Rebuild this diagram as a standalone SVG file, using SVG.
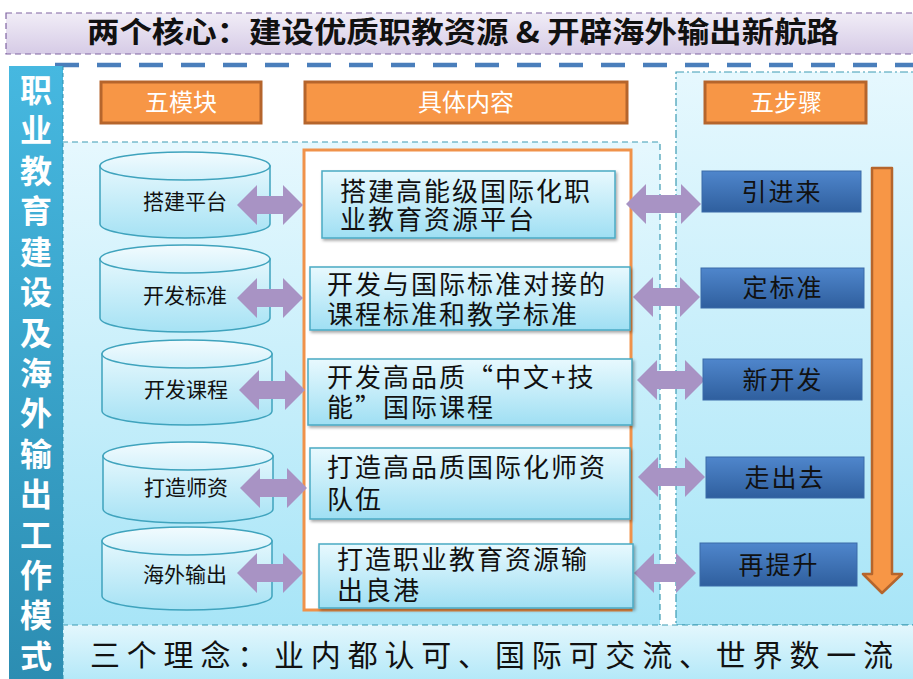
<svg xmlns="http://www.w3.org/2000/svg" width="913" height="679" viewBox="0 0 913 679">
<defs>
<linearGradient id="gTitle" x1="0" y1="0" x2="0" y2="1"><stop offset="0" stop-color="#f1edf7"/><stop offset="1" stop-color="#d6cbe6"/></linearGradient>
<linearGradient id="gBar" x1="0" y1="0" x2="0" y2="1"><stop offset="0" stop-color="#46b8e0"/><stop offset="1" stop-color="#2c8db2"/></linearGradient>
<linearGradient id="gRegion" x1="0" y1="0" x2="0" y2="1"><stop offset="0" stop-color="#e6f8fe"/><stop offset="1" stop-color="#a8e5f7"/></linearGradient>
<linearGradient id="gBand" x1="0" y1="0" x2="0" y2="1"><stop offset="0" stop-color="#e3f7fd"/><stop offset="1" stop-color="#b3e8f8"/></linearGradient>
<linearGradient id="gCyl" x1="0" y1="0" x2="0" y2="1"><stop offset="0" stop-color="#e4f7fd"/><stop offset="1" stop-color="#a6e2f4"/></linearGradient>
<linearGradient id="gCylTop" x1="0" y1="0" x2="0" y2="1"><stop offset="0" stop-color="#f2fbfe"/><stop offset="1" stop-color="#d3f1fb"/></linearGradient>
<linearGradient id="gBox" x1="0" y1="0" x2="0" y2="1"><stop offset="0" stop-color="#e8f9fe"/><stop offset="1" stop-color="#9fdff3"/></linearGradient>
<linearGradient id="gStep" x1="0" y1="0" x2="0" y2="1"><stop offset="0" stop-color="#4f86cc"/><stop offset="1" stop-color="#2f5f9e"/></linearGradient>
<filter id="shadow" x="-10%" y="-10%" width="130%" height="140%"><feDropShadow dx="1.5" dy="2" stdDeviation="1.5" flood-color="#000" flood-opacity="0.35"/></filter>
</defs>
<style>
.cyl{fill:url(#gCyl);stroke:#3fa3bd;stroke-width:1.5}
.cyltop{fill:url(#gCylTop);stroke:#3fa3bd;stroke-width:1.5}
.arr{fill:#a893c4}
.box{fill:url(#gBox);stroke:#4aaac4;stroke-width:1.5;filter:url(#shadow)}
.step{fill:url(#gStep);stroke:#3a6aa8;stroke-width:1}
.hdr{fill:#f79646;stroke:#b5652c;stroke-width:3}
.cjk{font-family:"Noto Sans CJK SC","Liberation Serif",serif}
.lbl{font-size:21px;fill:#111}
.txt{font-size:26px;fill:#111;letter-spacing:2px}
.stxt{font-size:25px;fill:#111;letter-spacing:2px}
.htxt{font-size:24px;fill:#fff}
</style>
<rect width="913" height="679" fill="#ffffff"/>
<g id="title">
<rect x="6" y="13" width="912" height="41" fill="url(#gTitle)" stroke="#8064a2" stroke-width="1.2" stroke-dasharray="6,4"/>
<text x="463" y="43" text-anchor="middle" class="cjk" font-size="29" font-weight="bold" fill="#111" textLength="752" lengthAdjust="spacingAndGlyphs">两个核心：建设优质职教资源 &amp; 开辟海外输出新航路</text>
</g>
<line x1="55" y1="65" x2="913" y2="65" stroke="#4a7ebb" stroke-width="4.5" stroke-dasharray="24,18"/>
<rect x="62" y="142" width="598" height="483" fill="url(#gRegion)"/>
<path d="M62,142 H660 V625" fill="none" stroke="#3d9bb3" stroke-width="1.2" stroke-dasharray="6,4"/>
<rect x="676" y="72" width="240" height="553" fill="url(#gRegion)" stroke="#3d9bb3" stroke-width="1.2" stroke-dasharray="8,3,2,3"/>
<rect x="62" y="625" width="855" height="56" fill="url(#gBand)"/>
<line x1="62" y1="625" x2="913" y2="625" stroke="#3d9bb3" stroke-width="1.2" stroke-dasharray="6,4"/>
<g id="sidebar">
<rect x="9" y="66" width="54" height="615" fill="url(#gBar)"/>
<line x1="63" y1="66" x2="63" y2="679" stroke="#2f8fae" stroke-width="1" stroke-dasharray="4,3"/>
<text class="cjk" font-size="32" font-weight="bold" fill="#ffffff" text-anchor="middle"><tspan x="36" y="102">职</tspan><tspan x="36" y="142">业</tspan><tspan x="36" y="183">教</tspan><tspan x="36" y="223">育</tspan><tspan x="36" y="264">建</tspan><tspan x="36" y="304">设</tspan><tspan x="36" y="345">及</tspan><tspan x="36" y="385">海</tspan><tspan x="36" y="425">外</tspan><tspan x="36" y="466">输</tspan><tspan x="36" y="506">出</tspan><tspan x="36" y="547">工</tspan><tspan x="36" y="587">作</tspan><tspan x="36" y="627">模</tspan><tspan x="36" y="668">式</tspan></text>
</g>
<g id="hdr-modules"><rect class="hdr" x="101" y="82" width="160" height="41"/><text class="cjk htxt" x="181" y="111" text-anchor="middle">五模块</text></g>
<g id="hdr-content"><rect class="hdr" x="305" y="82" width="322" height="41"/><text class="cjk htxt" x="466" y="111" text-anchor="middle">具体内容</text></g>
<g id="hdr-steps"><rect class="hdr" x="705" y="82" width="161" height="41"/><text class="cjk htxt" x="786" y="111" text-anchor="middle">五步骤</text></g>
<rect x="304" y="150" width="327" height="460" fill="#ffffff" stroke="#f0924a" stroke-width="3"/>
<g id="cyl1"><path class="cyl" d="M100,166 V224 A85,14 0 0 0 270,224 V166 Z"/><ellipse class="cyltop" cx="185" cy="166" rx="85" ry="14"/><text class="cjk lbl" x="185" y="209" text-anchor="middle">搭建平台</text></g>
<g id="cyl2"><path class="cyl" d="M100,259 V318 A85,14 0 0 0 270,318 V259 Z"/><ellipse class="cyltop" cx="185" cy="259" rx="85" ry="14"/><text class="cjk lbl" x="185" y="303" text-anchor="middle">开发标准</text></g>
<g id="cyl3"><path class="cyl" d="M102,354 V411 A85,14 0 0 0 272,411 V354 Z"/><ellipse class="cyltop" cx="187" cy="354" rx="85" ry="14"/><text class="cjk lbl" x="186" y="397" text-anchor="middle">开发课程</text></g>
<g id="cyl4"><path class="cyl" d="M103,456 V509 A85,14 0 0 0 273,509 V456 Z"/><ellipse class="cyltop" cx="188" cy="456" rx="85" ry="14"/><text class="cjk lbl" x="186" y="495" text-anchor="middle">打造师资</text></g>
<g id="cyl5"><path class="cyl" d="M102,541 V596 A85,14 0 0 0 272,596 V541 Z"/><ellipse class="cyltop" cx="187" cy="541" rx="85" ry="14"/><text class="cjk lbl" x="185" y="582" text-anchor="middle">海外输出</text></g>
<g id="connectors">
<polygon class="arr" points="237,205 257,185 257,196 283,196 283,185 303,205 283,225 283,214 257,214 257,225"/>
<polygon class="arr" points="237,298 257,278 257,289 283,289 283,278 303,298 283,318 283,307 257,307 257,318"/>
<polygon class="arr" points="239,390 259,370 259,381 285,381 285,370 305,390 285,410 285,399 259,399 259,410"/>
<polygon class="arr" points="240,488 260,468 260,479 287,479 287,468 307,488 287,508 287,497 260,497 260,508"/>
<polygon class="arr" points="237,573 257,553 257,564 283,564 283,553 303,573 283,593 283,582 257,582 257,593"/>
<polygon class="arr" points="626,204 646,184 646,195 681,195 681,184 701,204 681,224 681,213 646,213 646,224"/>
<polygon class="arr" points="633,297 653,277 653,288 680,288 680,277 700,297 680,317 680,306 653,306 653,317"/>
<polygon class="arr" points="637,380 657,360 657,371 685,371 685,360 705,380 685,400 685,389 657,389 657,400"/>
<polygon class="arr" points="638,477 658,457 658,468 685,468 685,457 705,477 685,497 685,486 658,486 658,497"/>
<polygon class="arr" points="634,573 654,553 654,564 676,564 676,553 696,573 676,593 676,582 654,582 654,593"/>
<polygon points="872,168 892,168 892,574 902,574 882,593 863,574 872,574" fill="#f79646" stroke="#b5652c" stroke-width="2.5" stroke-linejoin="round"/>
</g>
<g id="content1"><rect class="box" x="322" y="171" width="293" height="67"/><text class="cjk txt"><tspan x="340" y="201">搭建高能级国际化职</tspan><tspan x="340" y="229">业教育资源平台</tspan></text></g>
<g id="content2"><rect class="box" x="310" y="267" width="320" height="63"/><text class="cjk txt"><tspan x="327" y="294">开发与国际标准对接的</tspan><tspan x="327" y="324">课程标准和教学标准</tspan></text></g>
<g id="content3"><rect class="box" x="308" y="359" width="324" height="66"/><text class="cjk txt"><tspan x="327" y="387">开发高品质“中文+技</tspan><tspan x="327" y="417">能”国际课程</tspan></text></g>
<g id="content4"><rect class="box" x="310" y="448" width="320" height="71"/><text class="cjk txt"><tspan x="327" y="477">打造高品质国际化师资</tspan><tspan x="327" y="509">队伍</tspan></text></g>
<g id="content5"><rect class="box" x="319" y="544" width="314" height="64"/><text class="cjk txt"><tspan x="337" y="569">打造职业教育资源输</tspan><tspan x="337" y="600">出良港</tspan></text></g>
<g id="step1"><rect class="step" x="702" y="171" width="159" height="41"/><text class="cjk stxt" x="782" y="201" text-anchor="middle">引进来</text></g>
<g id="step2"><rect class="step" x="701" y="268" width="163" height="40"/><text class="cjk stxt" x="783" y="297" text-anchor="middle">定标准</text></g>
<g id="step3"><rect class="step" x="703" y="359" width="159" height="41"/><text class="cjk stxt" x="783" y="389" text-anchor="middle">新开发</text></g>
<g id="step4"><rect class="step" x="706" y="457" width="158" height="41"/><text class="cjk stxt" x="785" y="487" text-anchor="middle">走出去</text></g>
<g id="step5"><rect class="step" x="700" y="543" width="157" height="43"/><text class="cjk stxt" x="779" y="574" text-anchor="middle">再提升</text></g>
<g id="ideas"><text class="cjk" x="90" y="666" font-size="30" fill="#111" textLength="803" lengthAdjust="spacing">三个理念：业内都认可、国际可交流、世界数一流</text></g>
</svg>
